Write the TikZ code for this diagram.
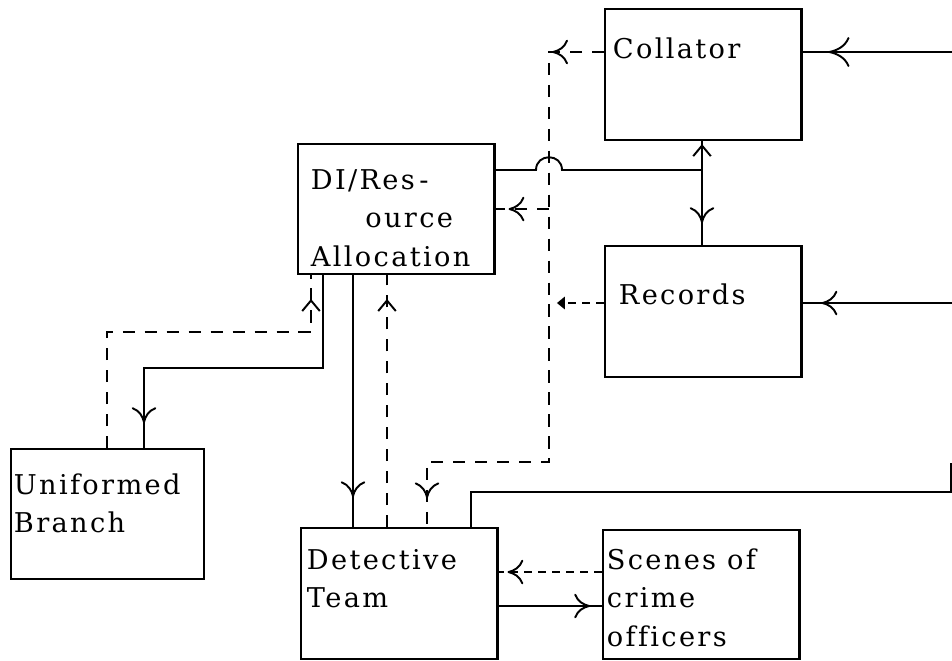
\documentclass[tikz,border=0pt]{standalone}
\usepackage{fontspec}
\usetikzlibrary{arrows.meta,decorations.markings,calc}
\newfontfamily\boxfont{DejaVu Serif}[LetterSpace=8.5,Ligatures=NoCommon]

\tikzset{
  fork/.tip={Computer Modern Rightarrow[width=14pt,length=9pt]},
  bigfork/.tip={Computer Modern Rightarrow[width=17pt,length=12pt]},
  hat/.tip={Straight Barb[width=10pt,length=6pt]},
  unit/.style={draw,line width=1.2pt,anchor=north west,inner sep=0pt,
               minimum width=3.93cm,minimum height=2.62cm},
  lbl/.style={anchor=north west,align=left,inner sep=0pt,
              font=\boxfont\fontsize{15.5}{22}\selectfont},
  tipat/.style={postaction={decorate,decoration={markings,
                mark=at position #1 with {\arrow{fork}}}}},
  bigtipat/.style={postaction={decorate,decoration={markings,
                mark=at position #1 with {\arrow{bigfork}}}}},
  hatat/.style={postaction={decorate,decoration={markings,
                mark=at position #1 with {\arrow{hat}}}}},
  fb/.style={dash pattern=on 7pt off 5.5pt},
  fbfine/.style={dash pattern=on 4.5pt off 3.5pt}
}

\begin{document}
\begin{tikzpicture}[x=0.02cm,y=-0.02cm,line width=1.1pt]
\useasboundingbox (0,0) rectangle (952,660);
%boxes
\node[unit] (collator) at (604,8) {};
\node[unit] (records) at (604,245) {};
\node[unit,minimum height=2.6cm] (dira) at (297,143) {};
\node[unit,minimum width=3.86cm,minimum height=2.6cm] (uniformed) at (10,448) {};
\node[unit] (detective) at (300,527) {};
\node[unit,minimum height=2.58cm] (scenes) at (602,529) {};
%box texts
\node[lbl] (collator-t) at (612,30) {\strut Collator};
\node[lbl] (records-t) at (618,276) {\strut Records};
\node[lbl] (dira-t) at (310,161) {\strut DI/Res\,-\\\hspace*{31pt}ource\\Allocation};
\node[lbl] (uniformed-t) at (13,466) {\strut Uniformed\\Branch};
\node[lbl] (detective-t) at (306,541) {\strut Detective\\Team};
\node[lbl] (scenes-t) at (606,541) {\strut Scenes of\\crime\\officers};
%corners and loose ends
\coordinate (ext1) at (952,52);
\coordinate (ext2) at (952,303);
\coordinate (ext3) at (951,463);
\coordinate (j1) at (702,170);
\coordinate (c1) at (549,52);
\coordinate (c2) at (549,462);
\coordinate (c3) at (427,462);
\coordinate (d1) at (107,332);
\coordinate (d2) at (311,332);
\coordinate (s1) at (323,368);
\coordinate (s2) at (144,368);
\coordinate (m1) at (353,400);
\coordinate (m2) at (387,400);
\coordinate (t1) at (471,492);
\coordinate (t2) at (951,492);
\coordinate (r1) at (550,572);
\coordinate (r2) at (550,606);
%inputs from outside
\draw[bigtipat=-14.7pt] (ext1) -- (collator.east |- ext1);
\draw[tipat=-10.8pt] (ext2) -- (records.east |- ext2);
%DI to collator and records, hop over the dashed line
\draw (dira.east |- j1) -- ($(c1 |- j1)+(-13,0)$) .. controls +(0,-17) and +(0,-17) .. ($(c1 |- j1)+(13,0)$) -- (j1);
\draw[hatat=-1.7pt] (j1) -- (collator.south -| j1);
\draw[tipat=-12.5pt] (j1) -- (records.north -| j1);
%collator back to DI and detective team
\draw[fb,tipat=29.5pt,tipat=-16.4pt] (collator.west |- c1) -- (c1) -- (c2) -- (c3) -- (c3 |- detective.north);
\draw[fb,tipat=-7.4pt] (c1 |- dira.east) -- (dira.east);
\draw[fbfine,-{Triangle[width=7pt,length=4.5pt]},shorten >=4.5pt] (records.west |- ext2) -- (c1 |- ext2);
%uniformed branch
\draw[fb,hatat=-13.6pt] (uniformed.north -| d1) -- (d1) -- (d2) -- (d2 |- dira.south);
\draw[tipat=-14.2pt] (dira.south -| s1) -- (s1) -- (s2) -- (s2 |- uniformed.north);
%detective team
\draw[tipat=-17pt] (dira.south -| m1) -- (detective.north -| m1);
\draw[fb,hatat=-13.6pt] (detective.north -| m2) -- (dira.south -| m2);
\draw (detective.north -| t1) -- (t1) -- (t2) -- (ext3);
\draw[fbfine,tipat=-5.1pt] (scenes.west |- r1) -- (detective.east |- r1);
\draw[tipat=-6.8pt] (detective.east |- r2) -- (scenes.west |- r2);
\end{tikzpicture}
\end{document}
